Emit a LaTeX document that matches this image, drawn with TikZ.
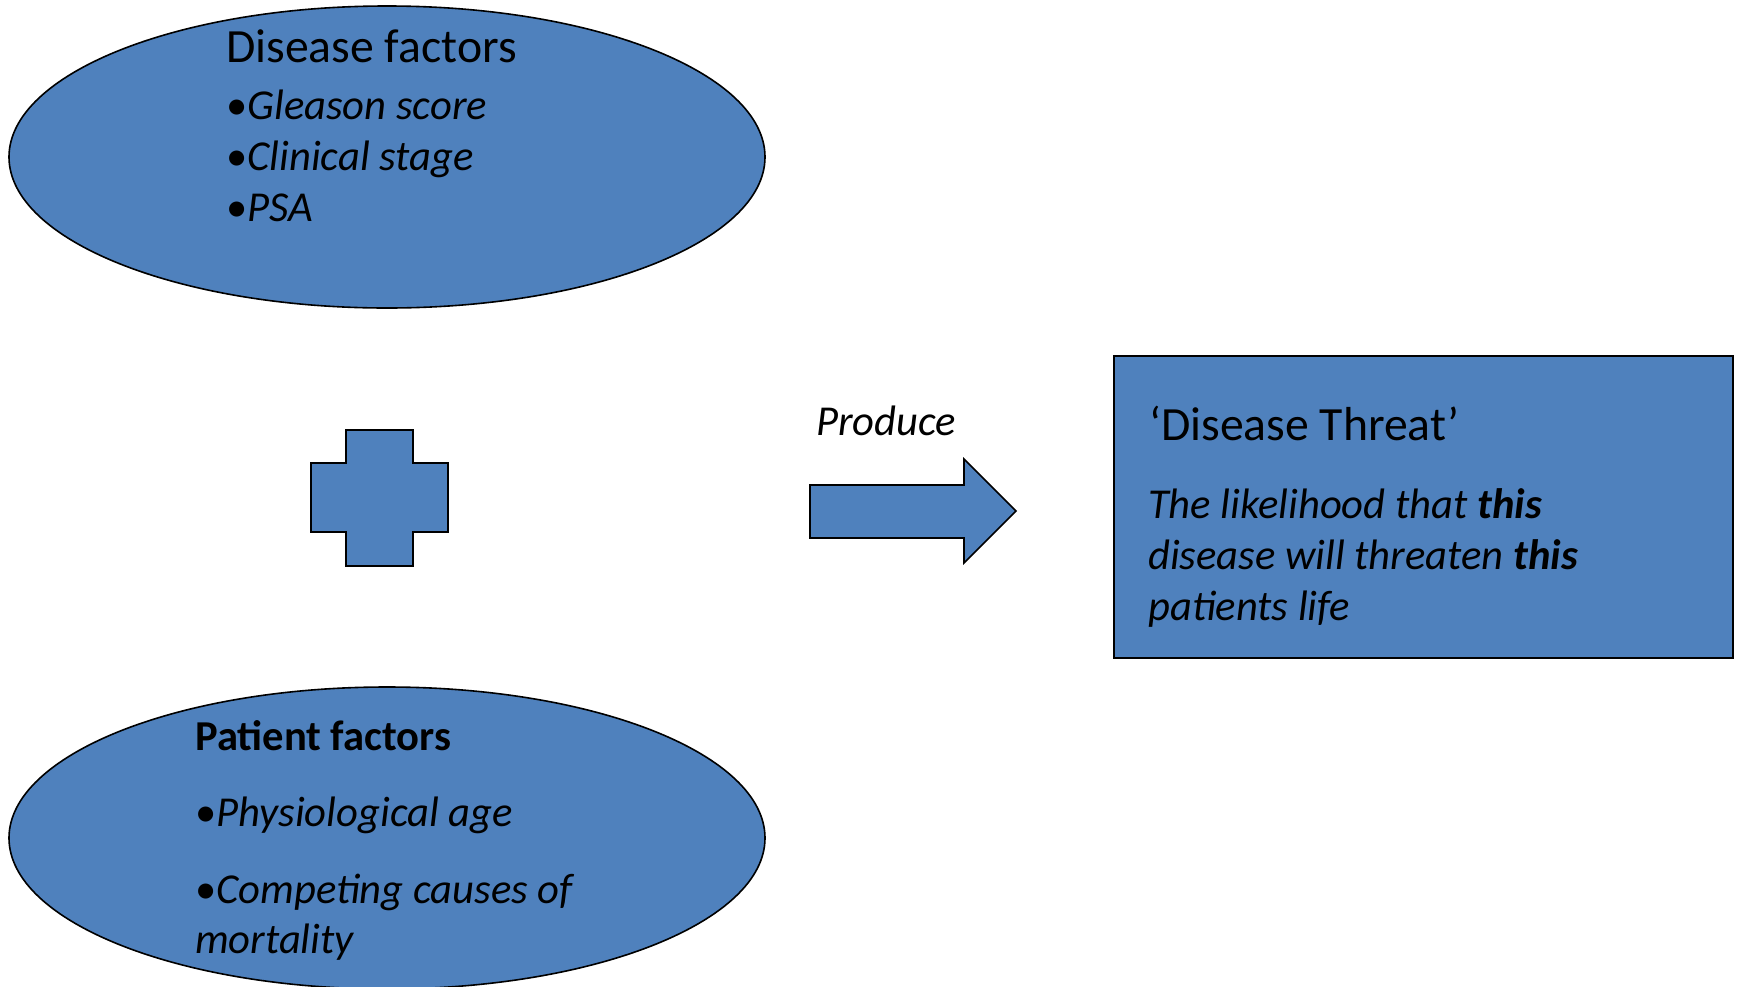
\documentclass[tikz,border=0pt]{standalone}
\usepackage{fontspec}
\setmainfont{Carlito}
\usetikzlibrary{shapes.geometric}
\definecolor{officeblue}{HTML}{4F81BD}
\tikzset{
  shapefill/.style={fill=officeblue, draw=black, line width=1.6pt},
  txt/.style={anchor=base west, inner sep=0pt, font=\fontsize{42.6}{46}\selectfont},
  head/.style={txt, font=\fontsize{47.7}{50}\selectfont},
}
\begin{document}
\begin{tikzpicture}[x=1pt,y=-1pt]
\useasboundingbox (0,0) rectangle (1738,986);
% ellipses
\node[shapefill, ellipse, inner sep=0pt, minimum width=756pt, minimum height=302pt] (dis) at (387,157) {};
\node[shapefill, ellipse, inner sep=0pt, minimum width=756pt, minimum height=302pt] (pat) at (387,838) {};
% texts of top ellipse
\node[head] (t1) at (226,62) {Disease factors};
\node[txt] (t2) at (226,119) {•\textit{Gleason score}};
\node[txt] (t3) at (226,170) {•\textit{Clinical stage}};
\node[txt] (t4) at (226,221) {•\textit{PSA}};
% texts of bottom ellipse
\node[txt] (p1) at (195,750) {\textbf{Patient factors}};
\node[txt] (p2) at (195,826) {•\textit{Physiological age}};
\node[txt] (p3) at (195,903) {•\textit{Competing causes of}};
\node[txt] (p4) at (195,953) {\textit{mortality}};
% plus sign
\draw[shapefill] (346,430) -- (413,430) -- (413,463) -- (448,463) -- (448,532) -- (413,532) -- (413,566) -- (346,566) -- (346,532) -- (311,532) -- (311,463) -- (346,463) -- cycle;
% arrow
\draw[shapefill] (810,485) -- (964,485) -- (964,459) -- (1016,511) -- (964,563) -- (964,538) -- (810,538) -- cycle;
\node[txt] (prod) at (816,435) {\textit{Produce}};
% rectangle
\node[shapefill, rectangle, anchor=north west, inner sep=0pt, minimum width=619pt, minimum height=302pt] (thr) at (1113,355) {};
\node[head] (h1) at (1149,440) {‘Disease Threat’};
\node[txt] (h2) at (1148,518) {\textit{The likelihood that \textbf{this}}};
\node[txt] (h3) at (1148,569) {\textit{disease will threaten \textbf{this}}};
\node[txt] (h4) at (1148,620) {\textit{patients life}};
\end{tikzpicture}
\end{document}
